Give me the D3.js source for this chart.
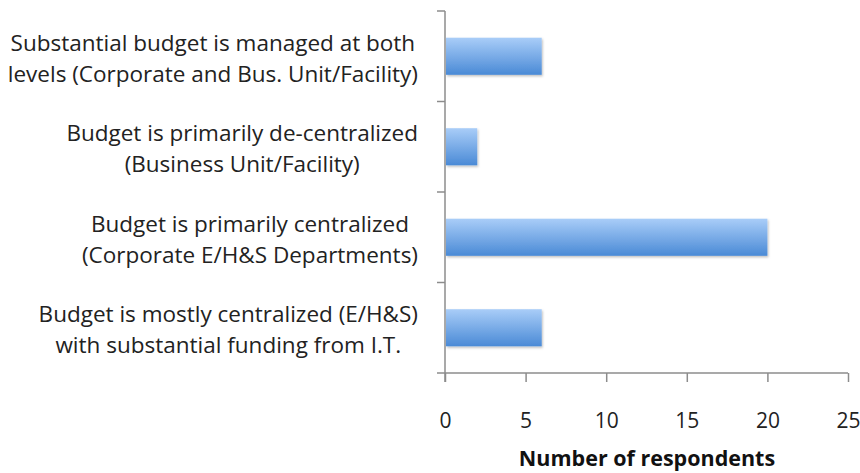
<!DOCTYPE html>
<html>
<head>
<meta charset="utf-8">
<script src="https://cdn.jsdelivr.net/npm/d3@7"></script>
<style>
  html, body { margin: 0; padding: 0; background: #fff; }
  svg { display: block; }
</style>
</head>
<body>
<svg id="chart" width="860" height="473"></svg>
<script>
const categories = [
  ["Substantial budget is managed at both", "levels (Corporate and Bus. Unit/Facility)"],
  ["Budget is primarily de-centralized", "(Business Unit/Facility)"],
  ["Budget is primarily centralized", "(Corporate E/H&S Departments)"],
  ["Budget is mostly centralized (E/H&S)", "with substantial funding from I.T."]
];
const values = [6, 2, 20, 6];
const xTicks = [0, 5, 10, 15, 20, 25];
const xTitle = "Number of respondents";

const svg = d3.select("#chart");
const margin = { left: 445, top: 11 };
const plotRight = 848, plotBottom = 373;

const x = d3.scaleLinear().domain([0, 25]).range([margin.left, plotRight]);
const y = d3.scaleBand().domain(d3.range(categories.length)).range([margin.top, plotBottom]).paddingInner(0.59).paddingOuter(0.295);

const defs = svg.append("defs");
const grad = defs.append("linearGradient").attr("id", "barGrad").attr("x1", 0).attr("y1", 0).attr("x2", 0).attr("y2", 1);
grad.append("stop").attr("offset", "0%").attr("stop-color", "#a9cdf8");
grad.append("stop").attr("offset", "100%").attr("stop-color", "#4a8ad6");
const filt = defs.append("filter").attr("id", "shadow").attr("x", "-10%").attr("y", "-20%").attr("width", "130%").attr("height", "160%");
filt.append("feDropShadow").attr("dx", 1).attr("dy", 1.5).attr("stdDeviation", 1.2).attr("flood-color", "#000").attr("flood-opacity", 0.25);

const axisColor = "#8c8c8c";
const fontFam = "'Open Sans', Lato, sans-serif";

// bars
svg.append("g").selectAll("rect").data(values).join("rect")
  .attr("x", x(0) + 1)
  .attr("y", (d, i) => y(i))
  .attr("width", d => x(d) - x(0) - 1)
  .attr("height", y.bandwidth())
  .attr("fill", "url(#barGrad)")
  .attr("filter", "url(#shadow)");

// y axis line and category boundary ticks
const bandStep = (plotBottom - margin.top) / categories.length;
const yAxisG = svg.append("g");
yAxisG.append("line").attr("x1", x(0)).attr("x2", x(0)).attr("y1", margin.top).attr("y2", plotBottom + 9)
  .attr("stroke", axisColor).attr("stroke-width", 1.5);
yAxisG.selectAll("line.tk").data(d3.range(categories.length)).join("line").attr("class", "tk")
  .attr("x1", x(0) - 8).attr("x2", x(0))
  .attr("y1", i => margin.top + i * bandStep).attr("y2", i => margin.top + i * bandStep)
  .attr("stroke", axisColor).attr("stroke-width", 1.5);

// x axis
const xAxis = d3.axisBottom(x).tickValues(xTicks).tickSize(9).tickPadding(31).tickFormat(d3.format("d"));
const xg = svg.append("g").attr("transform", `translate(0,${plotBottom})`).call(xAxis);
xg.select(".domain").attr("stroke", axisColor).attr("stroke-width", 1.5).attr("d", `M${x(0) - 8},0H${plotRight}`);
xg.selectAll(".tick line").attr("stroke", axisColor).attr("stroke-width", 1.5);
xg.selectAll(".tick text").attr("fill", "#222").attr("font-family", fontFam).attr("font-size", 21);

// x title
svg.append("text").attr("x", 647).attr("y", 466)
  .attr("text-anchor", "middle").attr("font-family", fontFam).attr("font-weight", "bold")
  .attr("font-size", 21.5).attr("fill", "#111").text(xTitle);

// category labels
const labelRight = 418;
const lg = svg.append("g").attr("font-family", fontFam).attr("font-size", 22.5).attr("fill", "#222");
categories.forEach((lines, i) => {
  const cy = y(i) + y.bandwidth() / 2 + 2;
  const g = lg.append("g");
  const texts = lines.map((t, k) => g.append("text")
    .attr("y", cy + (k - (lines.length - 1) / 2) * 31)
    .attr("dy", "0.35em").attr("text-anchor", "middle").text(t));
  const maxW = d3.max(texts, t => t.node().getComputedTextLength());
  texts.forEach(t => t.attr("x", labelRight - maxW / 2));
});
</script>
</body>
</html>
